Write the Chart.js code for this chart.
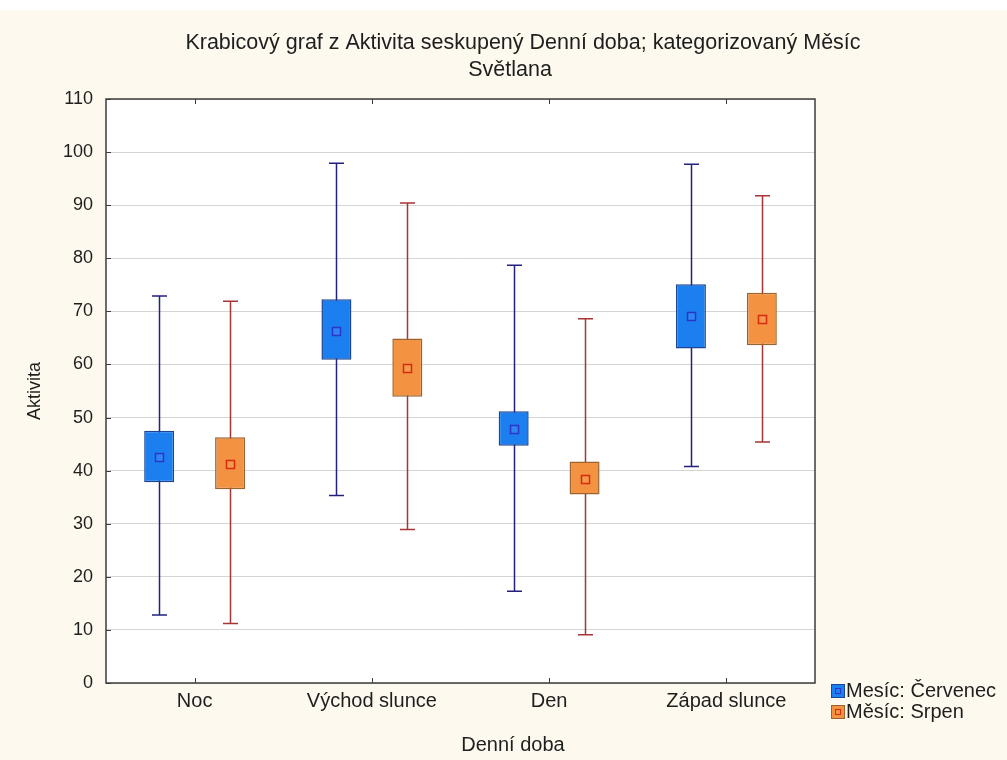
<!DOCTYPE html>
<html>
<head>
<meta charset="utf-8">
<title>Krabicový graf – Aktivita</title>
<script src="https://cdn.jsdelivr.net/npm/chart.js@4/dist/chart.umd.min.js"></script>
<style>
  html, body { margin: 0; padding: 0; background: #ffffff; }
  canvas { display: block; }
</style>
</head>
<body>
<canvas id="chart" width="1007" height="760"></canvas>
<script>
// Categories (x axis) and series names
const categories = ['Noc', 'Východ slunce', 'Den', 'Západ slunce'];
const seriesNames = ['Mesíc: Červenec', 'Měsíc: Srpen'];

// Červenec: whisker ends, box edges and middle marker
const julMin    = [12.8, 35.3, 17.3, 40.8];
const julQ1     = [37.8, 60.9, 44.7, 63.0];
const julMedian = [42.5, 66.3, 47.9, 69.1];
const julQ3     = [47.5, 72.3, 51.2, 75.1];
const julMax    = [72.9, 97.9, 78.7, 97.7];

// Srpen: whisker ends, box edges and middle marker
const augMin    = [11.2, 28.9,  9.1, 45.4];
const augQ1     = [36.5, 53.9, 35.5, 63.6];
const augMedian = [41.3, 59.4, 38.5, 68.5];
const augQ3     = [46.3, 64.9, 41.7, 73.5];
const augMax    = [71.9, 90.4, 68.6, 91.8];

// Value axis ticks
const yTicks = [0, 10, 20, 30, 40, 50, 60, 70, 80, 90, 100, 110];

const titleLines = ['Krabicový graf z Aktivita seskupený Denní doba; kategorizovaný Měsíc', 'Světlana'];
const xAxisTitle = 'Denní doba';

const FONT = '"Liberation Sans", Arial, sans-serif';
const TEXT = '#1e1e1e';

const styles = [
  { fill: '#1b7ff0', border: '#1d4596', whisker: '#22227e', markFill: '#2f86f2', markBorder: '#2b35c8' },
  { fill: '#f39240', border: '#9a6432', whisker: '#a83434', markFill: '#f59a4a', markBorder: '#d62a12' }
];

const stats = [
  { min: julMin, q1: julQ1, med: julMedian, q3: julQ3, max: julMax },
  { min: augMin, q1: augQ1, med: augMedian, q3: augQ3, max: augMax }
];

// Cream page background below a thin white strip
const backgroundPlugin = {
  id: 'pageBackground',
  beforeDraw(chart) {
    const ctx = chart.ctx;
    ctx.save();
    ctx.fillStyle = '#fdf9ee';
    ctx.fillRect(0, 10, chart.width, chart.height - 10);
    const a = chart.chartArea;
    ctx.fillStyle = '#ffffff';
    ctx.fillRect(a.left, a.top, a.right - a.left, a.bottom - a.top);
    ctx.restore();
  }
};

// Whiskers (min..max with caps) behind the boxes
const whiskerPlugin = {
  id: 'whiskers',
  beforeDatasetsDraw(chart) {
    const ctx = chart.ctx;
    const y = chart.scales.y;
    ctx.save();
    chart.data.datasets.forEach((ds, di) => {
      const meta = chart.getDatasetMeta(di);
      const s = stats[di];
      ctx.strokeStyle = styles[di].whisker;
      ctx.lineWidth = 1.5;
      meta.data.forEach((bar, i) => {
        const x = Math.round(bar.x) + 0.5;
        const yTop = y.getPixelForValue(s.max[i]);
        const yBot = y.getPixelForValue(s.min[i]);
        ctx.beginPath();
        ctx.moveTo(x, yTop); ctx.lineTo(x, yBot);
        ctx.moveTo(x - 7.5, yTop); ctx.lineTo(x + 7.5, yTop);
        ctx.moveTo(x - 7.5, yBot); ctx.lineTo(x + 7.5, yBot);
        ctx.stroke();
      });
    });
    ctx.restore();
  },
  afterDatasetsDraw(chart) {
    // Small square marker inside each box
    const ctx = chart.ctx;
    const y = chart.scales.y;
    ctx.save();
    chart.data.datasets.forEach((ds, di) => {
      const meta = chart.getDatasetMeta(di);
      const s = stats[di];
      meta.data.forEach((bar, i) => {
        const cx = Math.round(bar.x) + 0.5;
        const cy = Math.round(y.getPixelForValue(s.med[i])) + 0.5;
        ctx.fillStyle = styles[di].markFill;
        ctx.fillRect(cx - 4, cy - 4, 8, 8);
        ctx.strokeStyle = styles[di].markBorder;
        ctx.lineWidth = 1.5;
        ctx.strokeRect(cx - 4, cy - 4, 8, 8);
      });
    });
    ctx.restore();
  }
};

// Plot frame, inner tick marks, titles and legend
const decorPlugin = {
  id: 'decor',
  afterDraw(chart) {
    const ctx = chart.ctx;
    const a = chart.chartArea;
    const y = chart.scales.y;
    const x = chart.scales.x;
    ctx.save();
    ctx.strokeStyle = '#3c3c3c';
    ctx.lineWidth = 1;
    ctx.beginPath();
    yTicks.forEach(v => {
      const py = Math.round(y.getPixelForValue(v)) + 0.5;
      ctx.moveTo(a.left, py); ctx.lineTo(a.left + 5, py);
    });
    categories.forEach((c, i) => {
      const px = Math.round(x.getPixelForValue(i)) + 0.5;
      ctx.moveTo(px, a.bottom); ctx.lineTo(px, a.bottom - 5);
      ctx.moveTo(px, a.top); ctx.lineTo(px, a.top + 5);
    });
    ctx.stroke();
    ctx.lineWidth = 1.5;
    ctx.strokeRect(a.left, a.top, a.right - a.left, a.bottom - a.top);

    // Chart title
    ctx.fillStyle = TEXT;
    ctx.font = '21.5px ' + FONT;
    ctx.textAlign = 'center';
    ctx.textBaseline = 'middle';
    ctx.fillText(titleLines[0], 523, 43);
    ctx.fillText(titleLines[1], 510, 70);

    // Category axis title
    ctx.font = '20px ' + FONT;
    ctx.fillText(xAxisTitle, 513, 745);

    // Legend
    ctx.textAlign = 'left';
    ctx.textBaseline = 'alphabetic';
    ctx.font = '20px ' + FONT;
    seriesNames.forEach((name, i) => {
      const bx = 831, by = 684 + i * 21;
      ctx.fillStyle = styles[i].fill;
      ctx.fillRect(bx, by, 14, 14);
      ctx.strokeStyle = styles[i].border;
      ctx.lineWidth = 1;
      ctx.strokeRect(bx + 0.5, by + 0.5, 13, 13);
      ctx.strokeStyle = styles[i].markBorder;
      ctx.strokeRect(bx + 4.5, by + 4.5, 5, 5);
      ctx.fillStyle = TEXT;
      ctx.fillText(name, 846, by + 13);
    });
    ctx.restore();
  }
};

const boxDatasets = stats.map((s, di) => ({
  label: seriesNames[di],
  data: s.q1.map((q, i) => [q, s.q3[i]]),
  backgroundColor: styles[di].fill,
  borderColor: styles[di].border,
  borderWidth: 1.5,
  borderSkipped: false,
  categoryPercentage: 0.8,
  barPercentage: 0.423
}));

new Chart(document.getElementById('chart'), {
  type: 'bar',
  data: { labels: categories, datasets: boxDatasets },
  plugins: [backgroundPlugin, whiskerPlugin, decorPlugin],
  options: {
    responsive: false,
    animation: false,
    devicePixelRatio: 1,
    layout: { padding: { top: 99, right: 192, left: 0, bottom: 0 } },
    plugins: {
      legend: { display: false },
      title: { display: false },
      tooltip: { enabled: false }
    },
    scales: {
      x: {
        type: 'category',
        grid: { display: false, drawTicks: false },
        border: { display: false },
        ticks: { color: TEXT, font: { family: FONT, size: 20 }, padding: 6 },
        afterFit(scale) { scale.height = 77; }
      },
      y: {
        type: 'linear',
        min: 0,
        max: 110,
        afterBuildTicks(scale) { scale.ticks = yTicks.map(v => ({ value: v })); },
        grid: { color: '#d5d5d5', lineWidth: 1, drawTicks: false },
        border: { display: false },
        ticks: { color: TEXT, font: { family: FONT, size: 18 }, padding: 13 },
        title: { display: true, text: 'Aktivita', color: TEXT, font: { family: FONT, size: 18 }, padding: { top: 24, bottom: 0 } },
        afterFit(scale) { scale.width = 106; }
      }
    }
  }
});
</script>
</body>
</html>
